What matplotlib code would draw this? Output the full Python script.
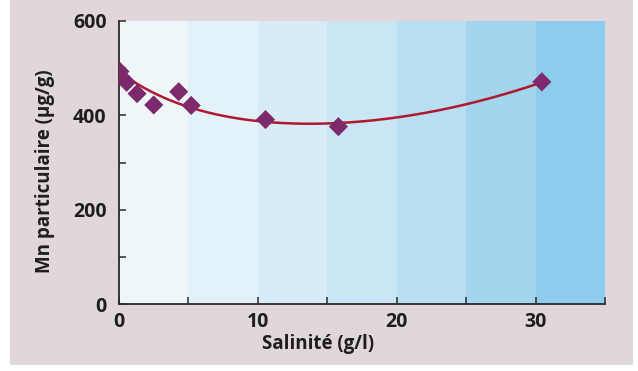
import numpy as np
import matplotlib.pyplot as plt
from matplotlib.patches import Rectangle

# points
salinity = [0.07, 0.55, 1.3, 2.5, 4.3, 5.2, 10.55, 15.8, 30.45]
mn_part = [493, 470, 446, 422, 450, 421, 391, 376, 471]
fit_weight = [4, 1, 1, 1, 1, 1, 1, 1, 1]

band_edges = [0, 5, 10, 15, 20, 25, 30, 35]
band_colors = ["#eef6fa", "#e3f1f8", "#d7ecf6", "#cae6f4", "#b8def1",
               "#a3d5ee", "#8dccec"]

plt.rcParams["font.family"] = ["Open Sans", "DejaVu Sans"]
plt.rcParams["font.weight"] = "bold"

fig = plt.figure(figsize=(6.38, 3.71), dpi=100, facecolor="white")
W, H = 638, 371
fig.patches.append(Rectangle((10 / W, (H - 365) / H), 623 / W, 365 / H,
                             transform=fig.transFigure, facecolor="#e1d6da",
                             edgecolor="none", zorder=-5))

ax = fig.add_axes([119 / W, (H - 304) / H, (605 - 119) / W, (304 - 21) / H])
ax.set_zorder(1)
ax.set_xlim(0, 35)
ax.set_ylim(0, 600)
ax.patch.set_alpha(0)

for i in range(len(band_colors)):
    ax.axvspan(band_edges[i], band_edges[i + 1], color=band_colors[i],
               lw=0, zorder=0)

# trend line: weighted least squares on 1, x, x^2 and a decay term
x = np.array(salinity)
w = np.array(fit_weight, dtype=float)
A = np.column_stack([np.ones_like(x), x, x ** 2, np.exp(-x / 5)])
coef, *_ = np.linalg.lstsq(A * w[:, None], np.array(mn_part) * w, rcond=None)
xs = np.linspace(0, max(salinity), 200)
As = np.column_stack([np.ones_like(xs), xs, xs ** 2, np.exp(-xs / 5)])
ax.plot(xs, As @ coef, color="#b0182e", lw=1.8, zorder=2)

ax.scatter(salinity, mn_part, marker="D", s=95, color="#7d2a6c",
           edgecolors="none", zorder=3)

for s in ["top", "right"]:
    ax.spines[s].set_visible(False)
for s in ["left", "bottom"]:
    ax.spines[s].set_color("#2a2a2a")
    ax.spines[s].set_linewidth(1.3)

ax.set_xticks([0, 10, 20, 30])
ax.set_xticks([5, 15, 25, 35], minor=True)
ax.set_yticks([0, 200, 400, 600])
ax.set_yticks([100, 300, 500], minor=True)
ax.tick_params(which="both", direction="in", length=5, width=1.1,
               color="#2a2a2a", labelsize=14, labelcolor="#1e1e1e")
ax.tick_params(axis="x", pad=6)
ax.tick_params(axis="y", pad=9)

fig.text(45 / W, 1 - 171 / H, "Mn particulaire (\u00b5g/g)", rotation=90,
         ha="center", va="center", fontsize=13.5, fontweight="bold",
         color="#1e1e1e")
fig.text(318 / W, 1 - 344 / H, "Salinit\u00e9 (g/l)", ha="center",
         va="center", fontsize=13.5, fontweight="bold", color="#1e1e1e")

fig.savefig("out.png", dpi=100, facecolor=fig.get_facecolor())
